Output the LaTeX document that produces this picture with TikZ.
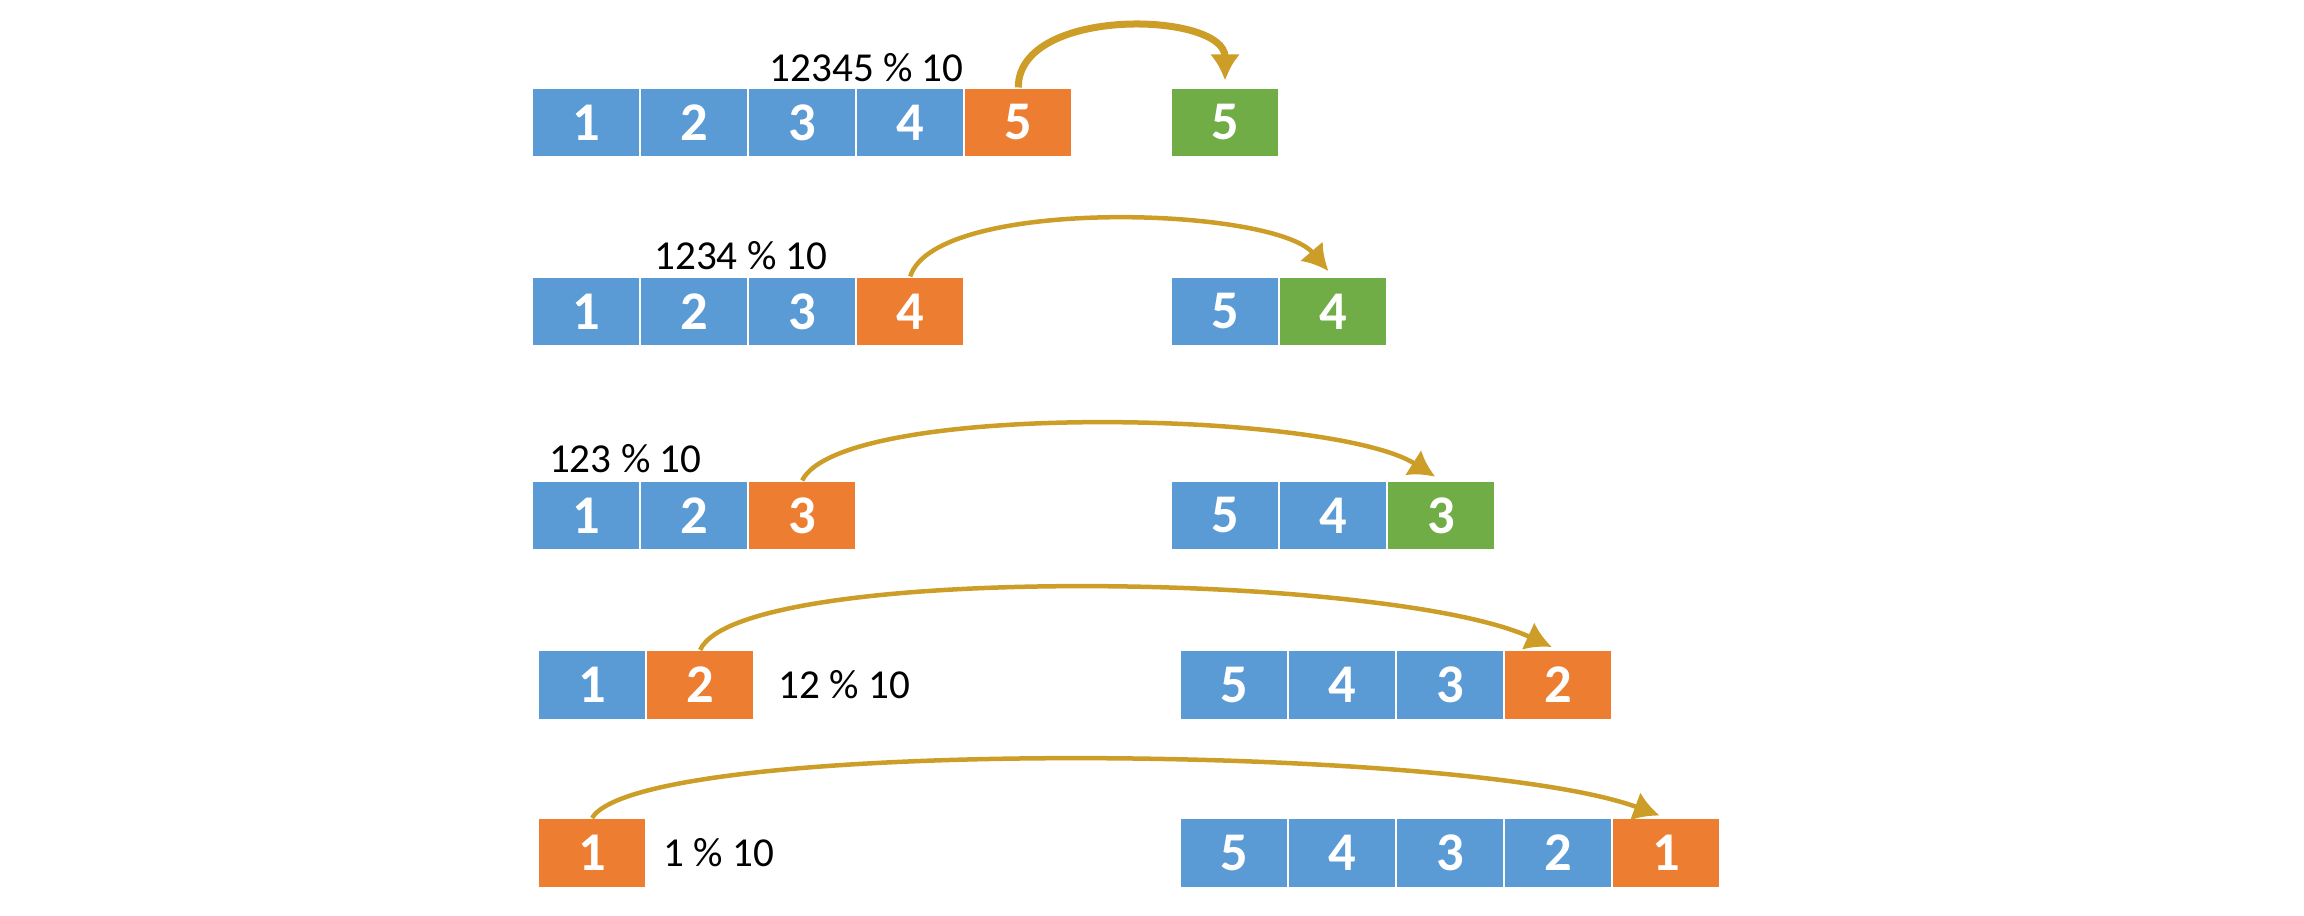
\documentclass[tikz,border=0pt]{standalone}
\usepackage{fontspec}
\setmainfont{Carlito}
\usetikzlibrary{positioning,arrows.meta}
\definecolor{cblue}{RGB}{91,155,213}
\definecolor{corange}{RGB}{237,125,49}
\definecolor{cgreen}{RGB}{112,173,71}
\definecolor{cgold}{RGB}{204,158,40}

\begin{document}
\begin{tikzpicture}[
  x=0.01cm, y=-0.01cm,
  node distance=0pt,
  cell/.style={draw=white,line width=0.6pt,minimum width=1.08cm,minimum height=0.7cm,inner sep=0pt,outer sep=0pt,text=white,font=\fontsize{15.5}{18}\selectfont\bfseries},
  old/.style={cell,fill=cblue},
  cur/.style={cell,fill=corange},
  new/.style={cell,fill=cgreen},
  modlabel/.style={inner sep=0pt,font=\fontsize{11.7}{14}\selectfont},
  carry/.style={draw=cgold,line width=0.045cm,shorten >=0.07cm,-{Latex[length=0.26cm,width=0.3cm]}}
]
\useasboundingbox (0,0) rectangle (2304,916);

% row 1
\node[old,anchor=west] (a1) at (532,122.5) {1};
\node[old,right=of a1] (a2) {2};
\node[old,right=of a2] (a3) {3};
\node[old,right=of a3] (a4) {4};
\node[cur,right=of a4] (a5) {5};
\node[new,anchor=west] (ar1) at (1171,122.5) {5};
\node[modlabel,above left=0.05cm and 0cm of a4.north east] (alab) {12345 \% 10};

% row 2
\node[old,anchor=west] (b1) at (532,311.5) {1};
\node[old,right=of b1] (b2) {2};
\node[old,right=of b2] (b3) {3};
\node[cur,right=of b3] (b4) {4};
\node[old,anchor=west] (br1) at (1171,311.5) {5};
\node[new,right=of br1] (br2) {4};
\node[modlabel,above left=0.06cm and 0.28cm of b3.north east] (blab) {1234 \% 10};

% row 3
\node[old,anchor=west] (c1) at (532,515.5) {1};
\node[old,right=of c1] (c2) {2};
\node[cur,right=of c2] (c3) {3};
\node[old,anchor=west] (cr1) at (1171,515.5) {5};
\node[old,right=of cr1] (cr2) {4};
\node[new,right=of cr2] (cr3) {3};
\node[modlabel,above left=0.07cm and 0.46cm of c2.north east] (clab) {123 \% 10};

% row 4
\node[old,anchor=west] (d1) at (538,685) {1};
\node[cur,right=of d1] (d2) {2};
\node[old,anchor=west] (dr1) at (1180,685) {5};
\node[old,right=of dr1] (dr2) {4};
\node[old,right=of dr2] (dr3) {3};
\node[cur,right=of dr3] (dr4) {2};
\node[modlabel,right=0.24cm of d2] (dlab) {12 \% 10};

% row 5
\node[cur,anchor=west] (e1) at (538,853) {1};
\node[old,anchor=west] (er1) at (1180,853) {5};
\node[old,right=of er1] (er2) {4};
\node[old,right=of er2] (er3) {3};
\node[old,right=of er3] (er4) {2};
\node[cur,right=of er4] (er5) {1};
\node[modlabel,right=0.17cm of e1] (elab) {1 \% 10};

% carried digits
\draw[carry,line width=0.07cm] (a5.north) .. controls +(0,-82) and +(0,-76) .. (ar1.north);
\draw[carry] (b4.north) .. controls +(25,-80) and +(-60,-70) .. (br2.north);
\draw[carry] (c3.north) .. controls +(40,-80) and +(-110,-70) .. (cr3.north);
\draw[carry] (d2.north) .. controls +(40,-88) and +(-170,-78) .. (dr4.north);
\draw[carry] (e1.north) .. controls +(50,-82) and +(-200,-74) .. (er5.north);
\end{tikzpicture}
\end{document}
